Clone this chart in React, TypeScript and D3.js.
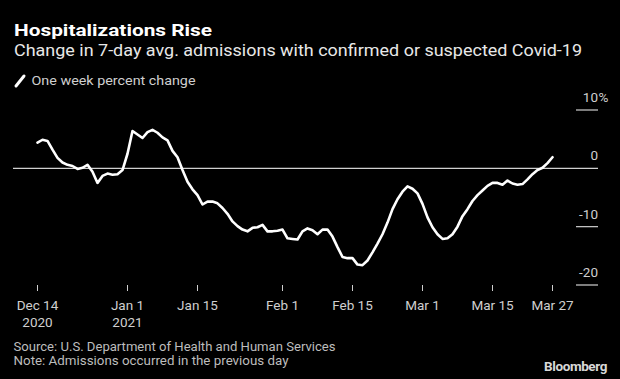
import React from "react";
import * as d3 from "d3";

const START_DATE = "2020-12-14";
const END_DATE = "2021-03-27";
// One week percent change, daily from Dec 14 2020 to Mar 27 2021
const weeklyChange: number[] = [
  4.4, 4.9, 4.7, 3.2, 1.8, 1.0, 0.6, 0.4, -0.1, 0.1,
  0.6, -0.6, -2.5, -1.3, -0.9, -1.1, -1.0, -0.3, 2.5, 6.4,
  5.8, 5.2, 6.2, 6.6, 6.1, 5.3, 4.8, 3.0, 1.9, -0.3,
  -2.3, -3.6, -4.6, -6.2, -5.7, -5.7, -6.0, -6.8, -7.8, -9.1,
  -9.9, -10.5, -10.8, -10.2, -10.1, -9.7, -10.8, -10.8, -10.7, -10.5,
  -12.0, -12.1, -12.2, -10.8, -10.3, -10.6, -11.3, -10.5, -10.5, -11.7,
  -13.5, -15.2, -15.4, -15.4, -16.5, -16.6, -15.8, -14.4, -12.9, -11.3,
  -9.3, -7.0, -5.3, -4.0, -3.1, -3.5, -4.3, -6.1, -8.4, -10.1,
  -11.3, -12.1, -12.0, -11.3, -10.0, -8.2, -7.0, -5.6, -4.6, -3.8,
  -3.0, -2.5, -2.5, -2.8, -2.1, -2.6, -2.8, -2.7, -1.9, -1.0,
  -0.3, 0.1, 0.9, 1.9,
];

const xTickDates = ["2020-12-14", "2021-01-01", "2021-01-15", "2021-02-01", "2021-02-15", "2021-03-01", "2021-03-15", "2021-03-27"];
const xTickLabels = ["Dec 14", "Jan 1", "Jan 15", "Feb 1", "Feb 15", "Mar 1", "Mar 15", "Mar 27"];
const xTickYears = ["2020", "2021", "", "", "", "", "", ""];
const yTicks = [10, 0, -10, -20];

const FONT = "Roboto, 'Noto Sans', 'DejaVu Sans', sans-serif";

export default function App() {
  const W = 620;
  const H = 379;
  const parse = d3.timeParse("%Y-%m-%d");
  const start = parse(START_DATE)!;
  const end = parse(END_DATE)!;
  const data = weeklyChange.map((v, i) => ({ date: d3.timeDay.offset(start, i), v }));

  const x = d3.scaleTime().domain([start, end]).range([37.5, 552.5]);
  const y = d3.scaleLinear().domain([-20, 10]).range([285, 110]);

  const line = d3
    .line<{ date: Date; v: number }>()
    .x((d) => x(d.date))
    .y((d) => y(d.v));

  return (
    <svg width={W} height={H} style={{ position: "absolute", left: 0, top: 0, background: "#000" }}>
      <rect x={0} y={0} width={W} height={H} fill="#000" />
      <text x={14} y={35.5} fill="#fff" fontFamily={FONT} fontWeight="bold" fontSize={16.5} textLength={198} lengthAdjust="spacingAndGlyphs">
        Hospitalizations Rise
      </text>
      <text x={14} y={56} fill="#e8e8e8" fontFamily={FONT} fontSize={16.5} textLength={568} lengthAdjust="spacingAndGlyphs">
        Change in 7-day avg. admissions with confirmed or suspected Covid-19
      </text>
      <line x1={16} y1={86} x2={24} y2={76} stroke="#fff" strokeWidth={3} strokeLinecap="round" />
      <text x={31.5} y={85} fill="#cfcfcf" fontFamily={FONT} fontSize={13.5} textLength={164} lengthAdjust="spacingAndGlyphs">
        One week percent change
      </text>

      {yTicks.map((t) =>
        t === 0 ? (
          <line key={t} x1={13} x2={598} y1={y(t)} y2={y(t)} stroke="#d0d0d0" strokeWidth={1.2} />
        ) : (
          <line key={t} x1={576} x2={598} y1={y(t)} y2={y(t)} stroke="#d0d0d0" strokeWidth={1.2} />
        )
      )}
      {yTicks.map((t) => (
        <text key={"l" + t} x={598} y={y(t) - 8} fill="#cfcfcf" fontFamily={FONT} fontSize={13.5} textAnchor="end">
          {t < 0 ? "-" + Math.abs(t) : String(t)}
        </text>
      ))}
      <text x={598.5} y={y(10) - 8} fill="#cfcfcf" fontFamily={FONT} fontSize={13.5}>
        %
      </text>

      {xTickDates.map((ds, i) => {
        const px = x(parse(ds)!);
        return (
          <g key={ds}>
            <line x1={px} x2={px} y1={285} y2={291} stroke="#cfcfcf" strokeWidth={1} />
            <text x={px} y={310} fill="#cfcfcf" fontFamily={FONT} fontSize={13.5} textAnchor="middle">
              {xTickLabels[i]}
            </text>
            {xTickYears[i] && (
              <text x={px} y={327} fill="#cfcfcf" fontFamily={FONT} fontSize={13.5} textAnchor="middle">
                {xTickYears[i]}
              </text>
            )}
          </g>
        );
      })}

      <path d={line(data) || ""} fill="none" stroke="#fff" strokeWidth={2.6} strokeLinejoin="round" strokeLinecap="round" />

      <text x={13.5} y={351} fill="#bdbdbd" fontFamily={FONT} fontSize={12} textLength={322} lengthAdjust="spacingAndGlyphs">
        Source: U.S. Department of Health and Human Services
      </text>
      <text x={13.5} y={365} fill="#bdbdbd" fontFamily={FONT} fontSize={12} textLength={275} lengthAdjust="spacingAndGlyphs">
        Note: Admissions occurred in the previous day
      </text>
      <text x={607} y={371} fill="#d8d8d8" fontFamily={FONT} fontWeight="bold" fontSize={13.5} textAnchor="end" letterSpacing={-0.4}>
        Bloomberg
      </text>
    </svg>
  );
}
